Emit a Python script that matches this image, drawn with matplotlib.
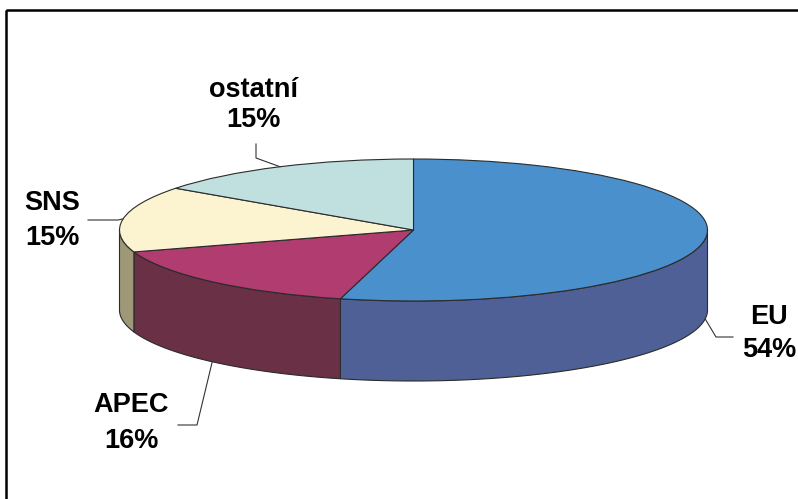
import numpy as np
import matplotlib.pyplot as plt
import matplotlib.transforms as mtransforms
from matplotlib.patches import Rectangle

labels = ["EU", "APEC", "SNS", "ostatní"]
shares = [54, 16, 15, 15]
pct_text = ["54%", "16%", "15%", "15%"]
top_colors = ["#4a90cd", "#b03c70", "#fcf3d0", "#c0e0e0"]
side_colors = ["#4f6096", "#6a3046", "#9e9778", "#8aa3a3"]

W, H = 798, 499
CX, CY, RX, RY, DEPTH = 413.5, 230, 294, 71, 80
EDGE = "#2b2b2b"

plt.rcParams['font.family'] = ['Liberation Sans', 'DejaVu Sans']

fig = plt.figure(figsize=(W / 100, H / 100), dpi=100)
ax = fig.add_axes([0, 0, 1, 1])
wedges, _ = ax.pie(shares, colors=top_colors, startangle=90, counterclock=False,
                   wedgeprops=dict(edgecolor=EDGE, linewidth=0.8, zorder=3))
ax.set_aspect('auto')
ax.set_xlim(-CX / RX, (W - CX) / RX)
ax.set_ylim(-(H - CY) / RY, CY / RY)
ax.axis('off')

d = DEPTH / RY

# visible side wall = part of each slice facing the viewer (sin < 0)
for w, c in zip(wedges, side_colors):
    for k in range(-2, 2):
        lo = max(w.theta1, 180 + 360 * k)
        hi = min(w.theta2, 360 + 360 * k)
        if hi <= lo:
            continue
        t = np.radians(np.linspace(lo, hi, 200))
        xs = np.concatenate([np.cos(t), np.cos(t[::-1])])
        ys = np.concatenate([np.sin(t), np.sin(t[::-1]) - d])
        ax.fill(xs, ys, facecolor=c, edgecolor=EDGE, linewidth=0.8, zorder=2)

# image pixel coords (y down) for labels
px = mtransforms.Affine2D().scale(1 / W, -1 / H).translate(0, 1) + fig.transFigure

# label baselines: (x, name baseline, pct baseline)
label_pos = [(769, 324, 357), (131, 412, 448), (52, 210, 245), (253, 97, 127)]
leader_pts = [[(733, 337), (716, 337)],
              [(178, 425), (197, 425)],
              [(88, 220), (118, 220)],
              [(256, 144), (256, 158)]]

for w, name, pct, (lx, b1, b2), pts in zip(wedges, labels, pct_text, label_pos, leader_pts):
    ax.text(lx, b1, name, transform=px, ha='center', va='baseline',
            fontsize=19.5, fontweight='bold')
    ax.text(lx, b2, pct, transform=px, ha='center', va='baseline',
            fontsize=19.5, fontweight='bold')
    mid = np.radians((w.theta1 + w.theta2) / 2)
    axx, axy = np.cos(mid), np.sin(mid)
    if axy < 0:
        axy -= d
    dx, dy = ax.transData.transform((axx, axy))
    xs = [p[0] for p in pts] + [dx]
    ys = [p[1] for p in pts] + [H - dy]
    ax.plot(xs, ys, transform=px, color="#333333", linewidth=0.8, zorder=4)

fig.add_artist(Rectangle((6, 9.5), 1000, 1000, transform=px, fill=False,
                         edgecolor='black', linewidth=1.8, clip_on=False))

fig.savefig("out.png", dpi=100)
